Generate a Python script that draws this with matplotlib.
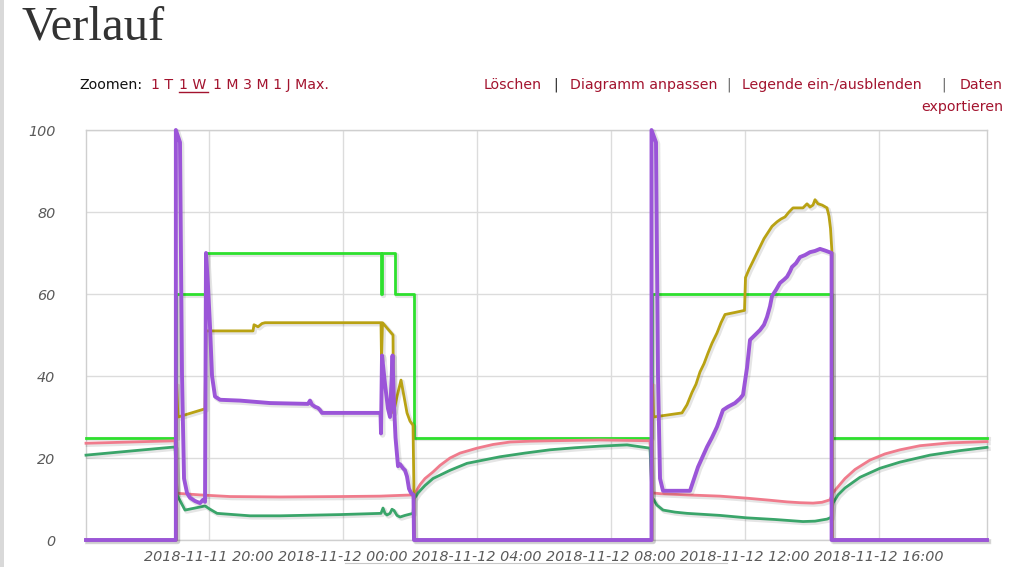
import matplotlib
matplotlib.use("Agg")
import matplotlib.pyplot as plt
import matplotlib.dates as mdates
import matplotlib.patheffects as pe
from matplotlib.lines import Line2D
from matplotlib.patches import Rectangle
import numpy as np
import pandas as pd

# ---------------- data (hours relative to 2018-11-11 20:00, value) ----------------
BASE = pd.Timestamp("2018-11-11 20:00")
X_START_H = -3.672
X_END_H = 23.224

setpoint = [(-3.672, 25), (-0.99, 25), (-0.99, 60), (-0.104, 60), (-0.104, 70),
            (5.134, 70), (5.134, 60), (5.17, 60), (5.17, 70), (5.552, 70), (5.552, 60),
            (6.119, 60), (6.119, 25), (13.209, 25), (13.209, 60), (18.597, 60),
            (18.597, 25), (23.224, 25)]

valve = [(-3.672, 0), (-0.99, 0), (-0.99, 100), (-0.866, 97), (-0.806, 40), (-0.746, 15),
         (-0.657, 11.5), (-0.567, 10.3), (-0.418, 9.5), (-0.269, 9), (-0.179, 9.8),
         (-0.119, 9.3), (-0.09, 70), (-0.03, 62), (0.03, 52), (0.09, 40), (0.179, 35),
         (0.328, 34.2), (0.925, 34), (1.821, 33.4), (2.955, 33.2), (3.015, 34), (3.075, 33),
         (3.164, 32.5), (3.254, 32.2), (3.313, 31.7), (3.373, 31), (5.119, 31), (5.134, 26),
         (5.164, 45), (5.254, 38), (5.343, 32), (5.403, 30), (5.478, 45), (5.522, 33),
         (5.567, 25), (5.642, 18), (5.701, 18.5), (5.791, 17.5), (5.851, 17), (5.91, 15.5),
         (5.97, 12.5), (6.03, 11.5), (6.104, 11), (6.119, 0), (13.209, 0), (13.209, 100),
         (13.343, 97), (13.403, 40), (13.463, 15), (13.552, 12), (14.358, 12),
         (14.597, 17.8), (14.866, 22.7), (15.015, 25), (15.164, 27.6), (15.343, 31.7),
         (15.493, 32.5), (15.701, 33.4), (15.851, 34.5), (15.94, 35.4), (16.06, 42),
         (16.149, 48.8), (16.299, 50), (16.448, 51.2), (16.567, 52.5), (16.657, 54.4),
         (16.746, 57), (16.806, 59.5), (16.925, 61), (17.045, 62.7), (17.164, 63.5),
         (17.254, 64.2), (17.343, 65.5), (17.403, 66.6), (17.522, 67.5), (17.642, 69),
         (17.791, 69.5), (17.94, 70.2), (18.09, 70.5), (18.239, 71), (18.388, 70.6),
         (18.585, 70), (18.585, 0), (23.224, 0)]

mixer = [(-3.672, 0), (-0.97, 0), (-0.97, 38), (-0.925, 30), (-0.119, 32), (-0.09, 51),
         (1.313, 51), (1.343, 52.5), (1.463, 52), (1.582, 52.8), (1.672, 53), (5.134, 53),
         (5.149, 44), (5.179, 53), (5.493, 50), (5.507, 31), (5.612, 35), (5.731, 39),
         (5.821, 35), (5.91, 31), (6.0, 29), (6.09, 28), (6.119, 11), (6.134, 0),
         (13.224, 0), (13.239, 38), (13.269, 30), (14.119, 31), (14.269, 33), (14.418, 36),
         (14.537, 38), (14.657, 41), (14.776, 43), (14.896, 45.6), (15.015, 48),
         (15.164, 50.5), (15.284, 53), (15.403, 55), (15.701, 55.5), (15.985, 56),
         (16.015, 64), (16.119, 66), (16.209, 67.5), (16.328, 69.5), (16.448, 71.5),
         (16.567, 73.5), (16.687, 75), (16.806, 76.5), (16.955, 77.6), (17.075, 78.3),
         (17.194, 78.8), (17.313, 80), (17.433, 81), (17.582, 81), (17.731, 81),
         (17.851, 82), (17.94, 81.2), (18.03, 81.7), (18.09, 83), (18.179, 82),
         (18.299, 81.7), (18.448, 81), (18.507, 79), (18.552, 76), (18.597, 70),
         (18.612, 0), (23.224, 0)]

temp_room = [(-3.672, 23.6), (-1.015, 24.2), (-0.955, 11.4), (-0.269, 11), (0.627, 10.6),
             (2.119, 10.5), (3.91, 10.6), (5.104, 10.7), (6.09, 11), (6.149, 11.4),
             (6.299, 13.5), (6.448, 15), (6.687, 16.6), (6.896, 18.2), (7.194, 20),
             (7.493, 21.2), (8.0, 22.4), (8.478, 23.3), (8.985, 23.9), (9.582, 24.1),
             (10.179, 24.2), (11.672, 24.4), (13.164, 24.2), (13.224, 11.5), (13.463, 11.3),
             (14.269, 11), (15.254, 10.7), (16.06, 10.2), (16.746, 9.7), (17.254, 9.3),
             (17.642, 9.1), (18.03, 9), (18.299, 9.2), (18.537, 9.8), (18.627, 11.5),
             (18.746, 12.7), (18.985, 15), (19.284, 17.2), (19.731, 19.5), (20.179, 21),
             (20.627, 22), (21.224, 23), (22.119, 23.7), (23.224, 24)]

temp_second = [(-3.672, 20.7), (-1.015, 22.7), (-0.955, 11), (-0.716, 7.3), (-0.119, 8.3),
               (0.03, 7.5), (0.239, 6.5), (1.224, 5.9), (2.119, 5.9), (3.91, 6.2),
               (5.134, 6.5), (5.194, 7.8), (5.254, 6.5), (5.313, 6.1), (5.403, 6.5),
               (5.463, 7.5), (5.522, 7.2), (5.612, 6.0), (5.701, 5.6), (5.851, 6.0),
               (6.09, 6.5), (6.119, 10), (6.239, 11.5), (6.448, 13.3), (6.687, 15),
               (7.194, 17), (7.701, 18.7), (8.687, 20.3), (9.433, 21.2), (10.179, 22),
               (10.925, 22.5), (11.672, 22.9), (12.478, 23.2), (13.164, 22.4), (13.224, 10.5),
               (13.373, 8.5), (13.552, 7.3), (13.91, 6.8), (14.269, 6.5), (15.254, 6),
               (16.06, 5.4), (16.896, 5), (17.731, 4.5), (18.09, 4.6), (18.448, 5.1),
               (18.567, 5.5), (18.627, 9), (18.776, 11), (18.985, 12.7), (19.433, 15.3),
               (20.03, 17.5), (20.627, 19), (21.522, 20.7), (22.418, 21.8), (23.224, 22.6)]

y_ticks = [0, 20, 40, 60, 80, 100]

# ---------------- figure ----------------
W, H = 1012, 567
fig = plt.figure(figsize=(W / 100, H / 100), dpi=100)
fig.patch.set_facecolor("white")

ax = fig.add_axes([86 / W, 27 / H, 901 / W, 410 / H])
base_num = mdates.date2num(BASE.to_pydatetime())


def xy(series):
    h = np.array([p[0] for p in series])
    v = np.array([p[1] for p in series])
    return base_num + h / 24.0, v


def shadow(lw):
    return [pe.SimpleLineShadow(offset=(1.2, -1.2), shadow_color="black", alpha=0.10,
                                linewidth=lw + 1.0), pe.Normal()]


styles = [
    (setpoint, "#2ee02e", 2.0),
    (temp_room, "#f07b8c", 2.0),
    (temp_second, "#3aa56a", 2.0),
    (mixer, "#b9a213", 2.0),
    (valve, "#9b55d8", 2.8),
]
for z, (series, color, lw) in enumerate(styles):
    x, v = xy(series)
    ax.plot(x, v, color=color, lw=lw, solid_joinstyle="round", clip_on=False,
            zorder=3 + z, path_effects=shadow(lw))

ax.set_ylim(0, 100)
ax.set_xlim(base_num + X_START_H / 24.0, base_num + X_END_H / 24.0)
ax.set_yticks(y_ticks)
ax.set_yticklabels([str(t) for t in y_ticks])
ax.xaxis.set_major_locator(mdates.HourLocator(byhour=[0, 4, 8, 12, 16, 20]))
ax.xaxis.set_major_formatter(mdates.DateFormatter("%Y-%m-%d %H:%M"))

ax.grid(True, color="#dcdcdc", lw=1.0, zorder=0)
ax.set_axisbelow(True)
for s in ax.spines.values():
    s.set_color("#cfcfcf")
    s.set_linewidth(1.0)
ax.tick_params(axis="both", length=0, colors="#5a5a5a", labelsize=10.4)
ax.tick_params(axis="y", pad=22)
ax.tick_params(axis="x", pad=7)
for lab in ax.get_xticklabels() + ax.get_yticklabels():
    lab.set_fontstyle("italic")
    lab.set_family("DejaVu Sans")

# ---------------- header texts ----------------
def fx(px):
    return px / W


def fy(py):
    return 1 - py / H


fig.text(fx(22), fy(40), "Verlauf", family="Liberation Serif", fontsize=35,
         color="#333333", va="baseline", ha="left")

RED = "#a3132e"
FS = 10.2
fig.text(fx(79), fy(89), "Zoomen:", color="#111111", fontsize=FS, va="baseline")
fig.text(fx(151), fy(89), "1 T", color=RED, fontsize=FS, va="baseline")
fig.text(fx(179), fy(89), "1 W", color=RED, fontsize=FS, va="baseline")
fig.add_artist(Line2D([fx(179), fx(208)], [fy(92), fy(92)], color=RED, lw=1.0))
fig.text(fx(213), fy(89), "1 M 3 M 1 J Max.", color=RED, fontsize=FS, va="baseline")

fig.text(fx(484), fy(89), "Löschen", color=RED, fontsize=FS, va="baseline")
fig.text(fx(553), fy(89), "|", color="#222222", fontsize=FS, va="baseline")
fig.text(fx(570), fy(89), "Diagramm anpassen", color=RED, fontsize=FS, va="baseline")
fig.text(fx(726), fy(89), "|", color="#666666", fontsize=FS, va="baseline")
fig.text(fx(742), fy(89), "Legende ein-/ausblenden", color=RED, fontsize=FS, va="baseline")
fig.text(fx(941), fy(89), "|", color="#666666", fontsize=FS, va="baseline")
fig.text(fx(1003), fy(89), "Daten", color=RED, fontsize=FS, va="baseline", ha="right")
fig.text(fx(1003), fy(111), "exportieren", color=RED, fontsize=FS, va="baseline", ha="right")

# decorative bits from the page
fig.add_artist(Line2D([fx(345), fx(727)], [fy(563), fy(563)], color="#c8c8c8", lw=0.8))
fig.add_artist(Rectangle((0, 0), fx(4), 1, transform=fig.transFigure,
                         facecolor="#d9d9d9", edgecolor="none"))

fig.savefig("out.png", dpi=100, facecolor="white")
